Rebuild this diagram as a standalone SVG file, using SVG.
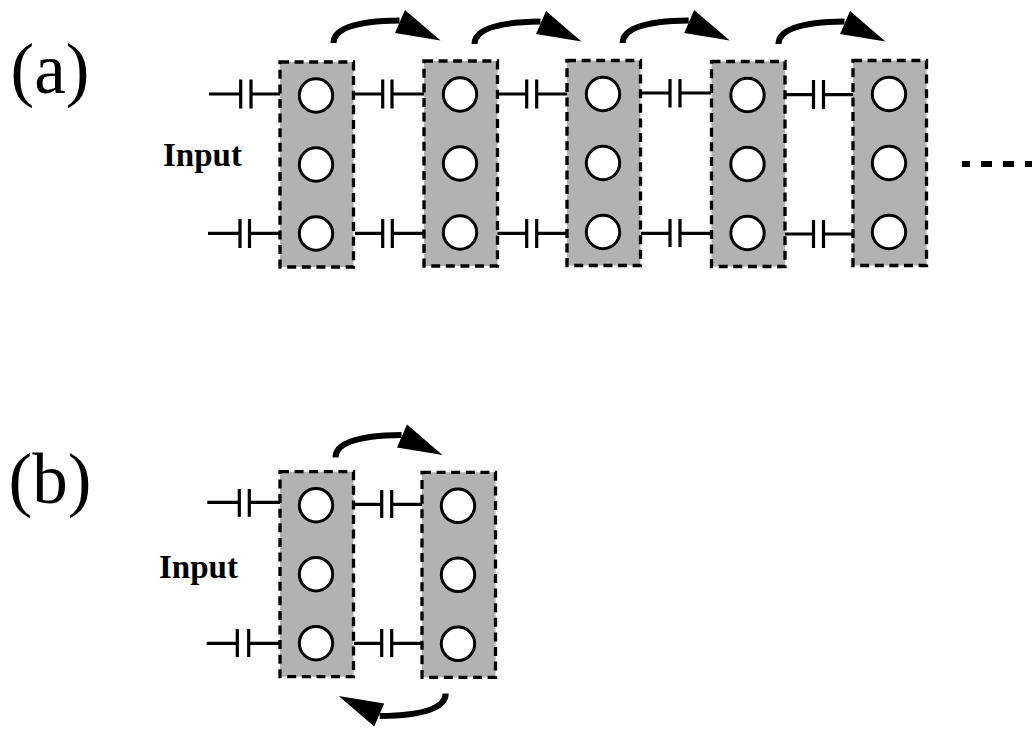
<svg xmlns="http://www.w3.org/2000/svg" width="1032" height="732" viewBox="0 0 1032 732">
<style>
.box{fill:#b2b2b2;stroke:#000;stroke-width:3.3;stroke-dasharray:9 5.6}
.dot{fill:#fff;stroke:#000;stroke-width:3}
.cap{fill:none;stroke:#000;stroke-width:3.2}
.arc{fill:none;stroke:#000;stroke-width:6}
.head{fill:#000}
.lab{font-family:"Liberation Serif","Times New Roman",serif;fill:#000}
.big{font-size:71px}
.inp{font-size:33px;font-weight:bold}
</style>
<defs>
<g id="cell"><rect class="box" x="0" y="0" width="73.5" height="205"/><circle class="dot" cx="36" cy="33.5" r="16.7"/><circle class="dot" cx="36" cy="102.5" r="16.7"/><circle class="dot" cx="36" cy="171.5" r="16.7"/></g>
<g id="arr"><path class="arc" d="M0 0C0 -13 18 -22 66 -22.5"/><polygon class="head" points="107,-2.5 71.5,-33 61.5,-10"/></g>
</defs>
<g id="label-a"><text class="lab big" x="10.5" y="93">(a)</text></g>
<g id="label-b"><text class="lab big" x="8.6" y="502.5">(b)</text></g>
<g id="input-a"><text class="lab inp" x="163" y="166">Input</text></g>
<g id="input-b"><text class="lab inp" x="159" y="577.5">Input</text></g>
<g id="a1"><use href="#cell" x="280" y="62"/></g>
<g id="a2"><use href="#cell" x="424" y="61"/></g>
<g id="a3"><use href="#cell" x="567" y="60.5"/></g>
<g id="a4"><use href="#cell" x="711.5" y="61.5"/></g>
<g id="a5"><use href="#cell" x="853" y="60.5"/></g>
<g id="b1"><use href="#cell" x="280" y="471.7"/></g>
<g id="b2"><use href="#cell" x="422" y="472.3"/></g>
<g id="connectors">
<path class="cap" d="M209 94H240.7M240.7 79.5V108.5M251 79.5V108.5M251 94H280"/>
<path class="cap" d="M208 233.3H240M240 219V248M249.5 219V248M249.5 233.3H280"/>
<path class="cap" d="M355 94H382.7M382.7 79.5V108.5M392 79.5V108.5M392 94H424"/>
<path class="cap" d="M355 233.3H382.7M382.7 219V248M392.3 219V248M392.3 233.3H424"/>
<path class="cap" d="M497.5 94H526.7M526.7 79.5V108.5M536.7 79.5V108.5M536.7 94H567"/>
<path class="cap" d="M497.5 233.3H526.7M526.7 219V248M536.7 219V248M536.7 233.3H567"/>
<path class="cap" d="M641 93H670M670 79V107.5M680 79V107.5M680 93H711"/>
<path class="cap" d="M641 233.3H670M670 219V247M680 219V247M680 233.3H711"/>
<path class="cap" d="M785 94.7H813.5M813.5 80V109M823.5 80V109M823.5 94.7H853"/>
<path class="cap" d="M785 234H813.5M813.5 220V248M823.5 220V248M823.5 234H853"/>
<path class="cap" d="M207.3 502.3H239.3M239.3 489V516.7M249.3 489V516.7M249.3 502.3H280"/>
<path class="cap" d="M206.7 643.3H237.3M237.3 629V657M248.7 629V657M248.7 643.3H280"/>
<path class="cap" d="M354 504.3H381.7M381.7 490V518M391.7 490V518M391.7 504.3H422"/>
<path class="cap" d="M354 643.3H381.7M381.7 629V657M391.7 629V657M391.7 643.3H422"/>
<use href="#arr" x="333.5" y="43"/><use href="#arr" x="474.5" y="44"/><use href="#arr" x="622.7" y="43"/><use href="#arr" x="778.5" y="44"/>
<use href="#arr" x="335.5" y="457.5"/>
<use href="#arr" transform="translate(445.7 693.5) rotate(180)"/>
<path d="M962 164H1032" fill="none" stroke="#000" stroke-width="6" stroke-dasharray="11 11" stroke-dashoffset="3"/>
</g>
</svg>
